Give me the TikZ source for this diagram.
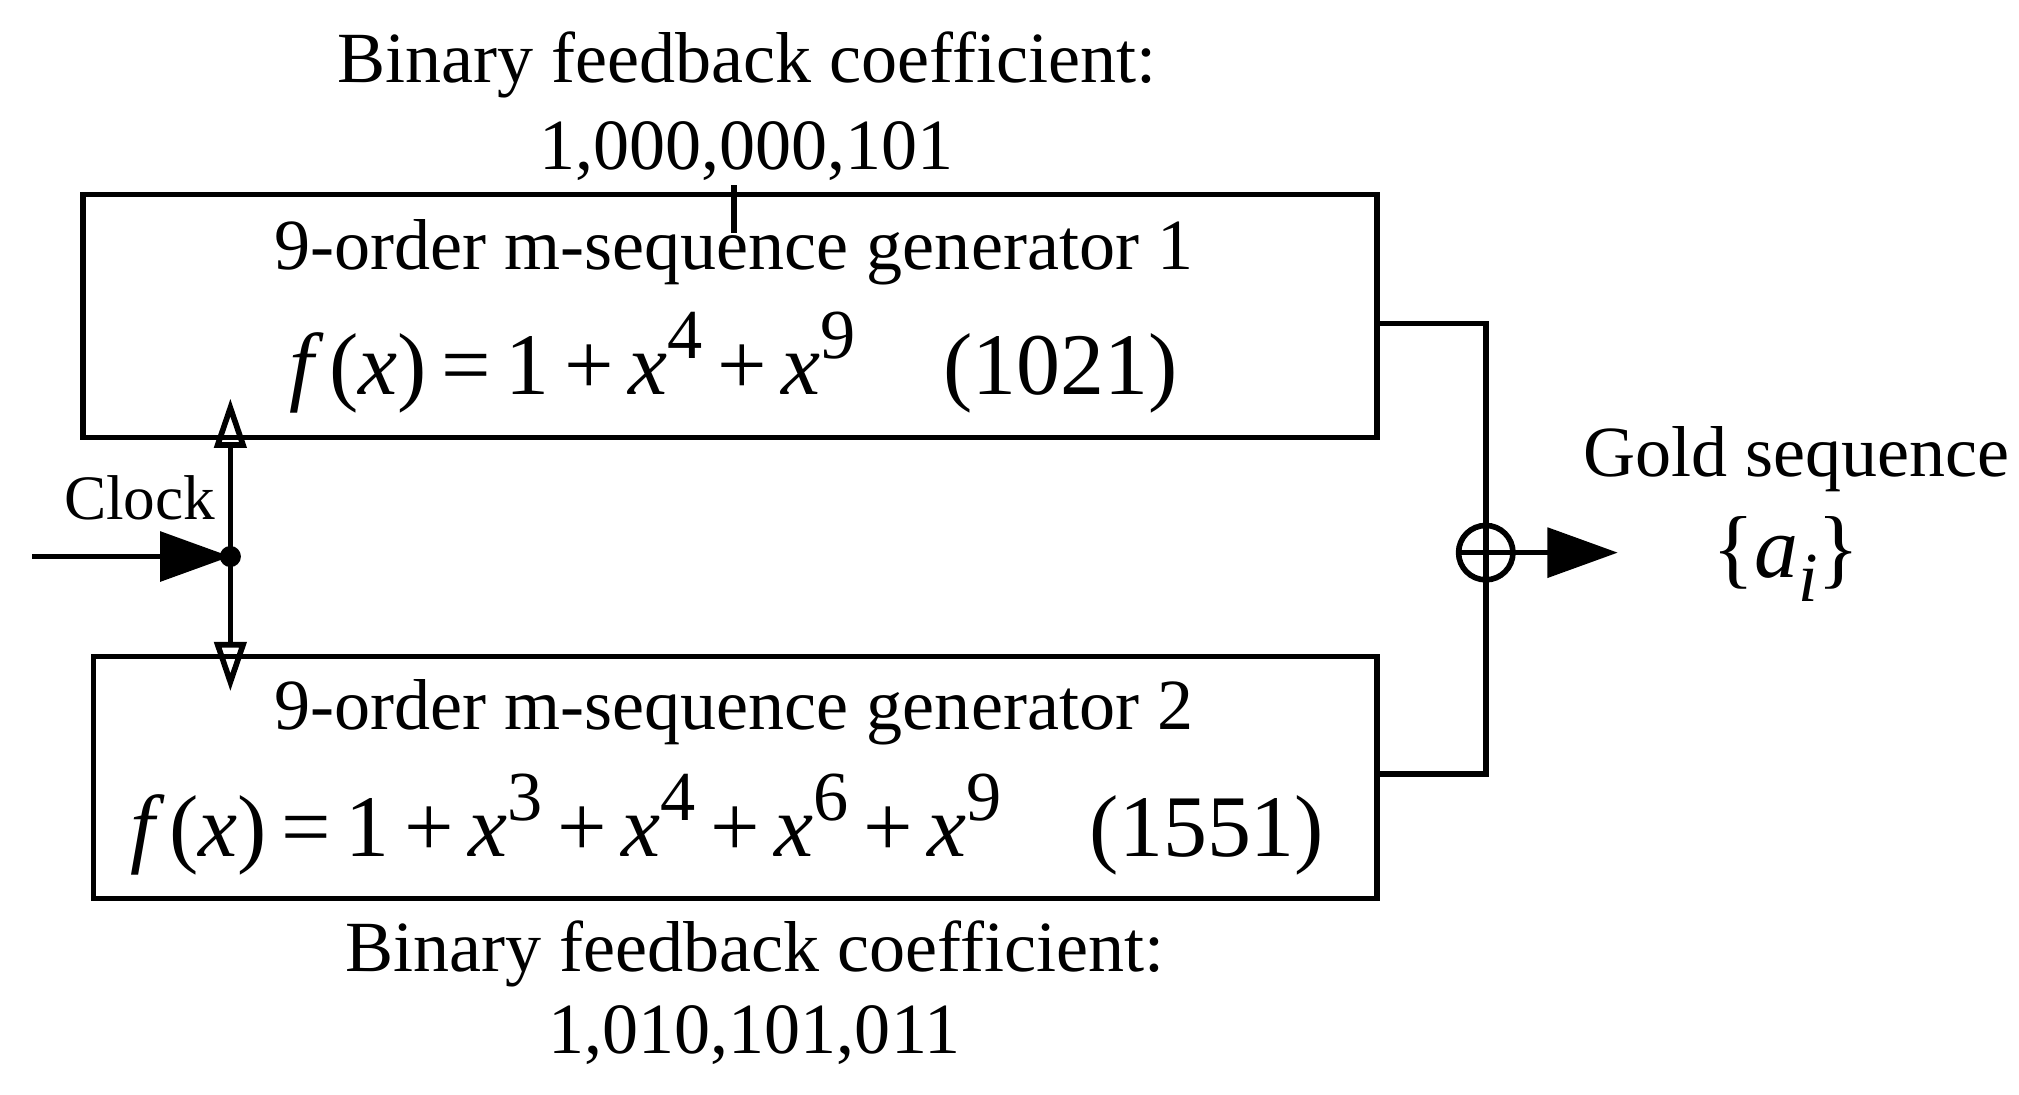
\documentclass[tikz,border=0pt]{standalone}
\usepackage{fontspec}
\setmainfont{Liberation Serif}
\usetikzlibrary{arrows.meta}
\newcommand{\ii}[1]{{\itshape #1}}
\newcommand{\sps}[1]{\raisebox{0.9ex}{\fontsize{20}{22}\selectfont #1}}
\begin{document}
\begin{tikzpicture}[x=0.01294cm,y=-0.01294cm,
  box/.style={draw,line width=1.6pt},
  txt/.style={font=\fontsize{20.5}{24}\selectfont},
  fml/.style={font=\fontsize{25}{28}\selectfont},
  ln/.style={line width=1.6pt}]
\useasboundingbox (0,0) rectangle (1560,846);
\node[box,minimum width=1000*0.01294cm,minimum height=188*0.01294cm,anchor=north west] (b1) at (62,148) {};
\node[box,minimum width=992*0.01294cm,minimum height=187*0.01294cm,anchor=north west] (b2) at (70,505) {};
\node[txt] (t1) at (577,50) {Binary feedback coefficient:};
\node[txt] (t2) at (577,117) {1,000,000,101};
\coordinate (k1) at (567,143);
\coordinate (k2) at (567,180);
\draw[ln] (k1)--(k2);
\node[txt] (g1) at (567,195) {9-order m-sequence generator 1};
\node[fml] (f1) at (567,280) {\ii{f}\,(\ii{x})\,=\,1\,+\,\ii{x}\sps{4}\,+\,\ii{x}\sps{9}\quad(1021)};
\node[txt] (g2) at (567,550) {9-order m-sequence generator 2};
\node[fml] (f2) at (562,637) {\ii{f}\,(\ii{x})\,=\,1\,+\,\ii{x}\sps{3}\,+\,\ii{x}\sps{4}\,+\,\ii{x}\sps{6}\,+\,\ii{x}\sps{9}\quad(1551)};
\node[txt] (t3) at (583,737) {Binary feedback coefficient:};
\node[txt] (t4) at (583,800) {1,010,101,011};
% clock
\coordinate (cd) at (178,430);
\coordinate (ct) at (178,308);
\coordinate (cb) at (178,534);
\coordinate (cin) at (25,430);
\draw[ln,-{Triangle[open,length=14pt,width=9pt]}] (cd)--(ct);
\draw[ln,-{Triangle[open,length=14pt,width=9pt]}] (cd)--(cb);
\fill (cd) circle (3pt);
\draw[ln,-{Triangle[length=20pt,width=14pt]}] (cin)--(cd);
\node[font=\fontsize{18}{22}\selectfont] (clk) at (108,385) {Clock};
% xor
\node[draw,circle,line width=1.6pt,minimum size=42*0.01294cm,inner sep=0] (x) at (1148,427) {};
\draw[ln] (x.north)--(x.south) (x.west)--(x.east);
\coordinate (r1) at (1148,250);
\coordinate (r2) at (1148,598);
\draw[ln] (1062,250)--(r1)--(x.north);
\draw[ln] (1062,598)--(r2)--(x.south);
\coordinate (out) at (1250,427);
\draw[ln,-{Triangle[length=20pt,width=14pt]}] (x.east)--(out);
\node[txt] (gs) at (1388,355) {Gold sequence};
\node[fml] (ai) at (1380,432) {\{\ii{a}\raisebox{-0.6ex}{\fontsize{20}{22}\selectfont\ii{i}}\}};
\end{tikzpicture}
\end{document}
